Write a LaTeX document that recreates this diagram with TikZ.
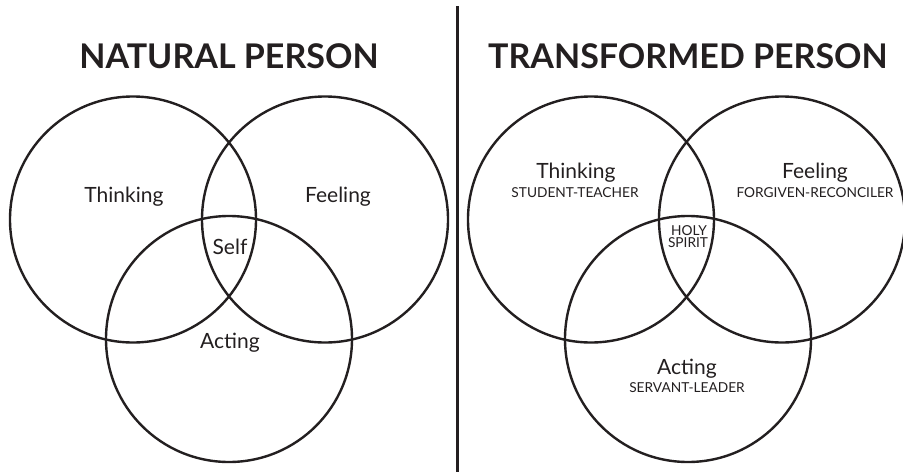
\documentclass[tikz,border=0pt]{standalone}
\usepackage{fontspec}
\setmainfont{Lato}
\definecolor{ink}{HTML}{231F20}
\begin{document}
\begin{tikzpicture}[x=1pt,y=-1pt,
  venn/.style={draw=ink,line width=2.4pt},
  ttl/.style={font=\fontsize{34}{38}\selectfont\bfseries,text=ink,inner sep=0pt,anchor=center},
  lbl/.style={font=\fontsize{21}{24}\selectfont,text=ink,inner sep=0pt,anchor=center},
  sub/.style={font=\fontsize{13.7}{15}\selectfont,text=ink,inner sep=0pt,anchor=center}]
\useasboundingbox (0,0) rectangle (903,472);
\fill[white] (0,0) rectangle (903,472);
% divider
\coordinate (dtop) at (457.5,6);
\coordinate (dbot) at (457.5,472);
\draw[ink,line width=2.6pt] (dtop) -- (dbot);
% titles
\node[ttl] (t1) at (229,56) {NATURAL PERSON};
\node[ttl] (t2) at (688,56) {TRANSFORMED PERSON};
% left venn
\draw[venn] (133,219.5) circle (123);
\draw[venn] (325,219.5) circle (123);
\draw[venn] (229,339) circle (123);
\node[lbl] (lt) at (124,197) {Thinking};
\node[lbl] (lf) at (338,197) {Feeling};
\node[lbl] (ls) at (230,247) {Self};
\node[lbl] (la) at (230,343) {Acting};
% right venn
\draw[venn] (591,219.5) circle (123);
\draw[venn] (782,219.5) circle (123);
\draw[venn] (688,339) circle (123);
\node[lbl] (rt) at (576,173) {Thinking};
\node[sub] (rts) at (575,193) {STUDENT-TEACHER};
\node[lbl] (rf) at (815,173) {Feeling};
\node[sub] (rfs) at (815,193) {FORGIVEN-RECONCILER};
\node[sub] (rh) at (689,231) {HOLY};
\node[sub] (rsp) at (688,243) {SPIRIT};
\node[lbl] (ra) at (687,369) {Acting};
\node[sub] (ras) at (687,388) {SERVANT-LEADER};
\end{tikzpicture}
\end{document}
